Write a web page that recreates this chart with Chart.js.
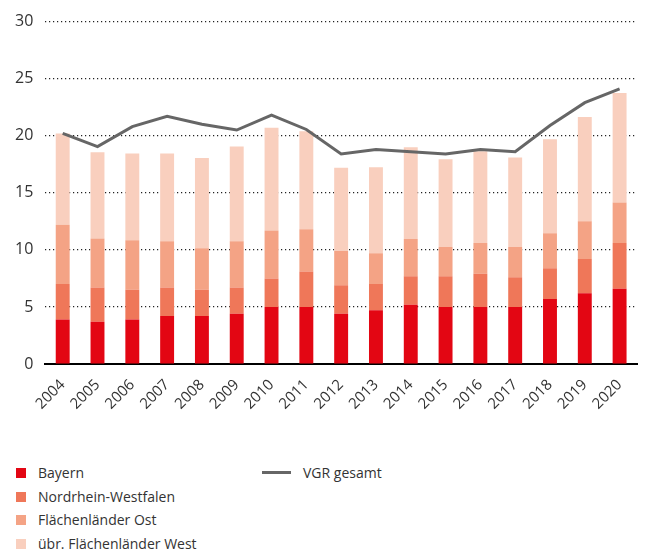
<!DOCTYPE html>
<html lang="de">
<head>
<meta charset="utf-8">
<script src="https://cdn.jsdelivr.net/npm/chart.js@4/dist/chart.umd.min.js"></script>
<style>
    body { margin: 0; background: #fff; font-family: "Open Sans", sans-serif; color: #333; }
    .chart-wrap { position: absolute; left: 0; top: 0; width: 651px; height: 430px; }
    .legende { position: absolute; left: 0; top: 461px; width: 651px; font-size: 14px; color: #333; }
    .leg-item { position: absolute; height: 23px; line-height: 23px; white-space: nowrap; }
    .leg-box { position: absolute; left: 0; top: 7px; width: 10px; height: 10px; }
    .leg-line { position: absolute; left: 0; top: 10px; width: 29px; height: 3px; background: #666; }
</style>
</head>
<body>
<div class="chart-wrap"><canvas id="graficaVGR"></canvas></div>
<div class="legende" id="legende"></div>
<script>
// Daten
const jahre = ['2004','2005','2006','2007','2008','2009','2010','2011','2012','2013','2014','2015','2016','2017','2018','2019','2020'];
const bayern = [3.9, 3.7, 3.9, 4.2, 4.2, 4.4, 5.0, 5.0, 4.4, 4.7, 5.2, 5.0, 5.0, 5.0, 5.7, 6.2, 6.6];
const nrw = [3.1, 3.0, 2.6, 2.5, 2.3, 2.3, 2.5, 3.1, 2.5, 2.3, 2.5, 2.7, 2.9, 2.6, 2.7, 3.0, 4.0];
const ost = [5.2, 4.3, 4.35, 4.05, 3.65, 4.05, 4.2, 3.7, 3.0, 2.7, 3.25, 2.55, 2.7, 2.65, 3.05, 3.3, 3.55];
const west = [8.0, 7.55, 7.6, 7.7, 7.9, 8.3, 9.0, 8.6, 7.3, 7.55, 8.05, 7.7, 8.05, 7.85, 8.25, 9.15, 9.6];
const vgrGesamt = [20.2, 19.05, 20.8, 21.7, 21.0, 20.5, 21.8, 20.55, 18.4, 18.8, 18.6, 18.4, 18.8, 18.6, 20.9, 22.9, 24.1];
const yTicks = [0, 5, 10, 15, 20, 25, 30];

const farben = {
    bayern: '#E30613',
    nrw: '#EF7759',
    ost: '#F4A385',
    west: '#F9CFBE',
    vgr: '#666666'
};

function balken(label, daten, farbe) {
    return {
        type: 'bar',
        label: label,
        data: daten,
        backgroundColor: farbe,
        stack: 'laender',
        categoryPercentage: 0.8,
        barPercentage: 0.5,
        order: 2
    };
}

const ctx = document.getElementById('graficaVGR').getContext('2d');
new Chart(ctx, {
    data: {
        labels: jahre,
        datasets: [
            {
                type: 'line',
                label: 'VGR gesamt',
                data: vgrGesamt,
                borderColor: farben.vgr,
                borderWidth: 3,
                pointRadius: 0,
                tension: 0,
                fill: false,
                order: 1
            },
            balken('Bayern', bayern, farben.bayern),
            balken('Nordrhein-Westfalen', nrw, farben.nrw),
            balken('Flächenländer Ost', ost, farben.ost),
            balken('übr. Flächenländer West', west, farben.west)
        ]
    },
    options: {
        responsive: true,
        maintainAspectRatio: false,
        animation: false,
        layout: { padding: { top: 5, left: 3, right: 14, bottom: 13 } },
        plugins: {
            legend: { display: false },
            tooltip: { enabled: false }
        },
        scales: {
            x: {
                stacked: true,
                grid: { display: false },
                border: { display: true, color: '#000', width: 2 },
                ticks: {
                    color: '#333',
                    font: { family: 'Open Sans', size: 15 },
                    minRotation: 45,
                    maxRotation: 45,
                    padding: 4
                }
            },
            y: {
                stacked: true,
                min: 0,
                max: 30,
                afterBuildTicks: function(axis) {
                    axis.ticks = yTicks.map(v => ({ value: v }));
                },
                grid: {
                    color: '#222',
                    lineWidth: 1.2,
                    drawTicks: false
                },
                border: { display: false, dash: [1.2, 2.8] },
                ticks: {
                    color: '#333',
                    font: { family: 'Open Sans', size: 16 },
                    padding: 12
                }
            }
        }
    }
});

// Legende
const legendeEintraege = [
    { text: 'Bayern', farbe: farben.bayern, x: 16, y: 0 },
    { text: 'Nordrhein-Westfalen', farbe: farben.nrw, x: 16, y: 23.5 },
    { text: 'Flächenländer Ost', farbe: farben.ost, x: 16, y: 47 },
    { text: 'übr. Flächenländer West', farbe: farben.west, x: 16, y: 70.5 },
    { text: 'VGR gesamt', farbe: farben.vgr, x: 262, y: 0, linie: true }
];
const legende = document.getElementById('legende');
legendeEintraege.forEach(e => {
    const item = document.createElement('div');
    item.className = 'leg-item';
    item.style.left = e.x + 'px';
    item.style.top = e.y + 'px';
    item.style.paddingLeft = e.linie ? '41px' : '22px';
    item.innerHTML = e.linie
        ? `<span class="leg-line"></span>${e.text}`
        : `<span class="leg-box" style="background:${e.farbe}"></span>${e.text}`;
    legende.appendChild(item);
});
</script>
</body>
</html>
